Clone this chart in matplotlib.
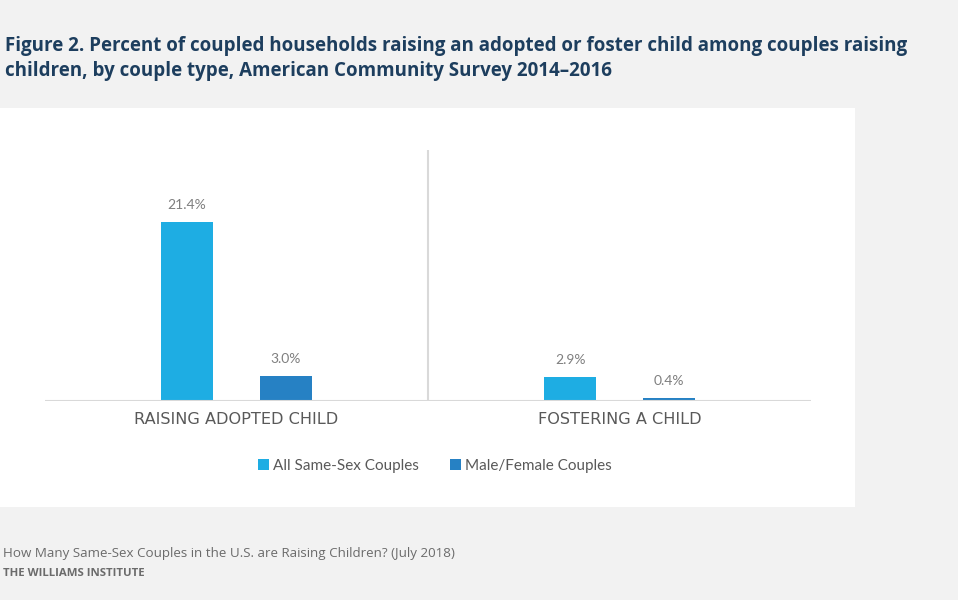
import matplotlib.pyplot as plt
import numpy as np
from matplotlib.patches import Rectangle

categories = ["RAISING ADOPTED CHILD", "FOSTERING A CHILD"]
series_names = ["All Same-Sex Couples", "Male/Female Couples"]
same_sex = [21.4, 2.9]
male_female = [3.0, 0.4]
colors = ["#1eade3", "#2681c4"]

plt.rcParams["font.family"] = ["Lato", "DejaVu Sans"]

fig = plt.figure(figsize=(9.58, 6.0), dpi=100)
fig.patch.set_facecolor("#f2f2f2")

# white panel behind the chart
fig.patches.append(Rectangle((0, 93 / 600), 855 / 958, 399 / 600,
                             transform=fig.transFigure, facecolor="white",
                             edgecolor="none", zorder=-5))

ax = fig.add_axes([45 / 958, 199 / 600, 766 / 958, 251 / 600])
ax.set_zorder(2)
ax.set_facecolor("none")

x = np.arange(len(categories))
width = 0.136
offset = 0.129
for vals, name, color, sign in [(same_sex, series_names[0], colors[0], -1),
                                (male_female, series_names[1], colors[1], 1)]:
    bars = ax.bar(x + sign * offset, vals, width, color=color, label=name, zorder=3)
    for bar, v in zip(bars, vals):
        ax.text(bar.get_x() + bar.get_width() / 2, v + 1.3, f"{v:.1f}%",
                ha="center", va="bottom", fontsize=10, color="#7f7f7f")

ax.set_xlim(-0.5, 1.5)
ax.set_ylim(0, 30)
ax.axvline(0.5, color="#d9d9d9", linewidth=1.5, zorder=1)
ax.axhline(0, color="#d9d9d9", linewidth=1.5, zorder=4)
for s in ax.spines.values():
    s.set_visible(False)
ax.set_yticks([])
ax.set_xticks(x)
ax.set_xticklabels(categories, fontsize=11.6, color="#595959",
                   fontfamily=["DejaVu Sans"])
ax.tick_params(axis="x", length=0, pad=8)

fig.legend(loc="center", bbox_to_anchor=(435 / 958, 1 - 466 / 600), ncol=2,
           frameon=False, fontsize=11, handlelength=0.7, handleheight=0.7,
           handletextpad=0.3, columnspacing=2.0, labelcolor="#595959")

title_font = dict(fontsize=13.5, fontweight="bold", color="#1d3e5e",
                  va="center", ha="left", fontfamily=["Open Sans", "DejaVu Sans"])
fig.text(5 / 958, 1 - 46 / 600,
         "Figure 2. Percent of coupled households raising an adopted or foster child among couples raising",
         **title_font)
fig.text(5 / 958, 1 - 71 / 600,
         "children, by couple type, American Community Survey 2014\u20132016",
         **title_font)

fig.text(3 / 958, 1 - 553 / 600,
         "How Many Same-Sex Couples in the U.S. are Raising Children? (July 2018)",
         fontsize=9.6, color="#6b6b6b", va="center", ha="left",
         fontfamily=["Open Sans", "DejaVu Sans"])
fig.text(3 / 958, 1 - 574 / 600, "THE WILLIAMS INSTITUTE",
         fontsize=8.2, fontweight="bold", color="#6b6b6b", va="center", ha="left",
         fontfamily=["Open Sans", "DejaVu Sans"])

fig.savefig("out.png", dpi=100, facecolor=fig.get_facecolor())
